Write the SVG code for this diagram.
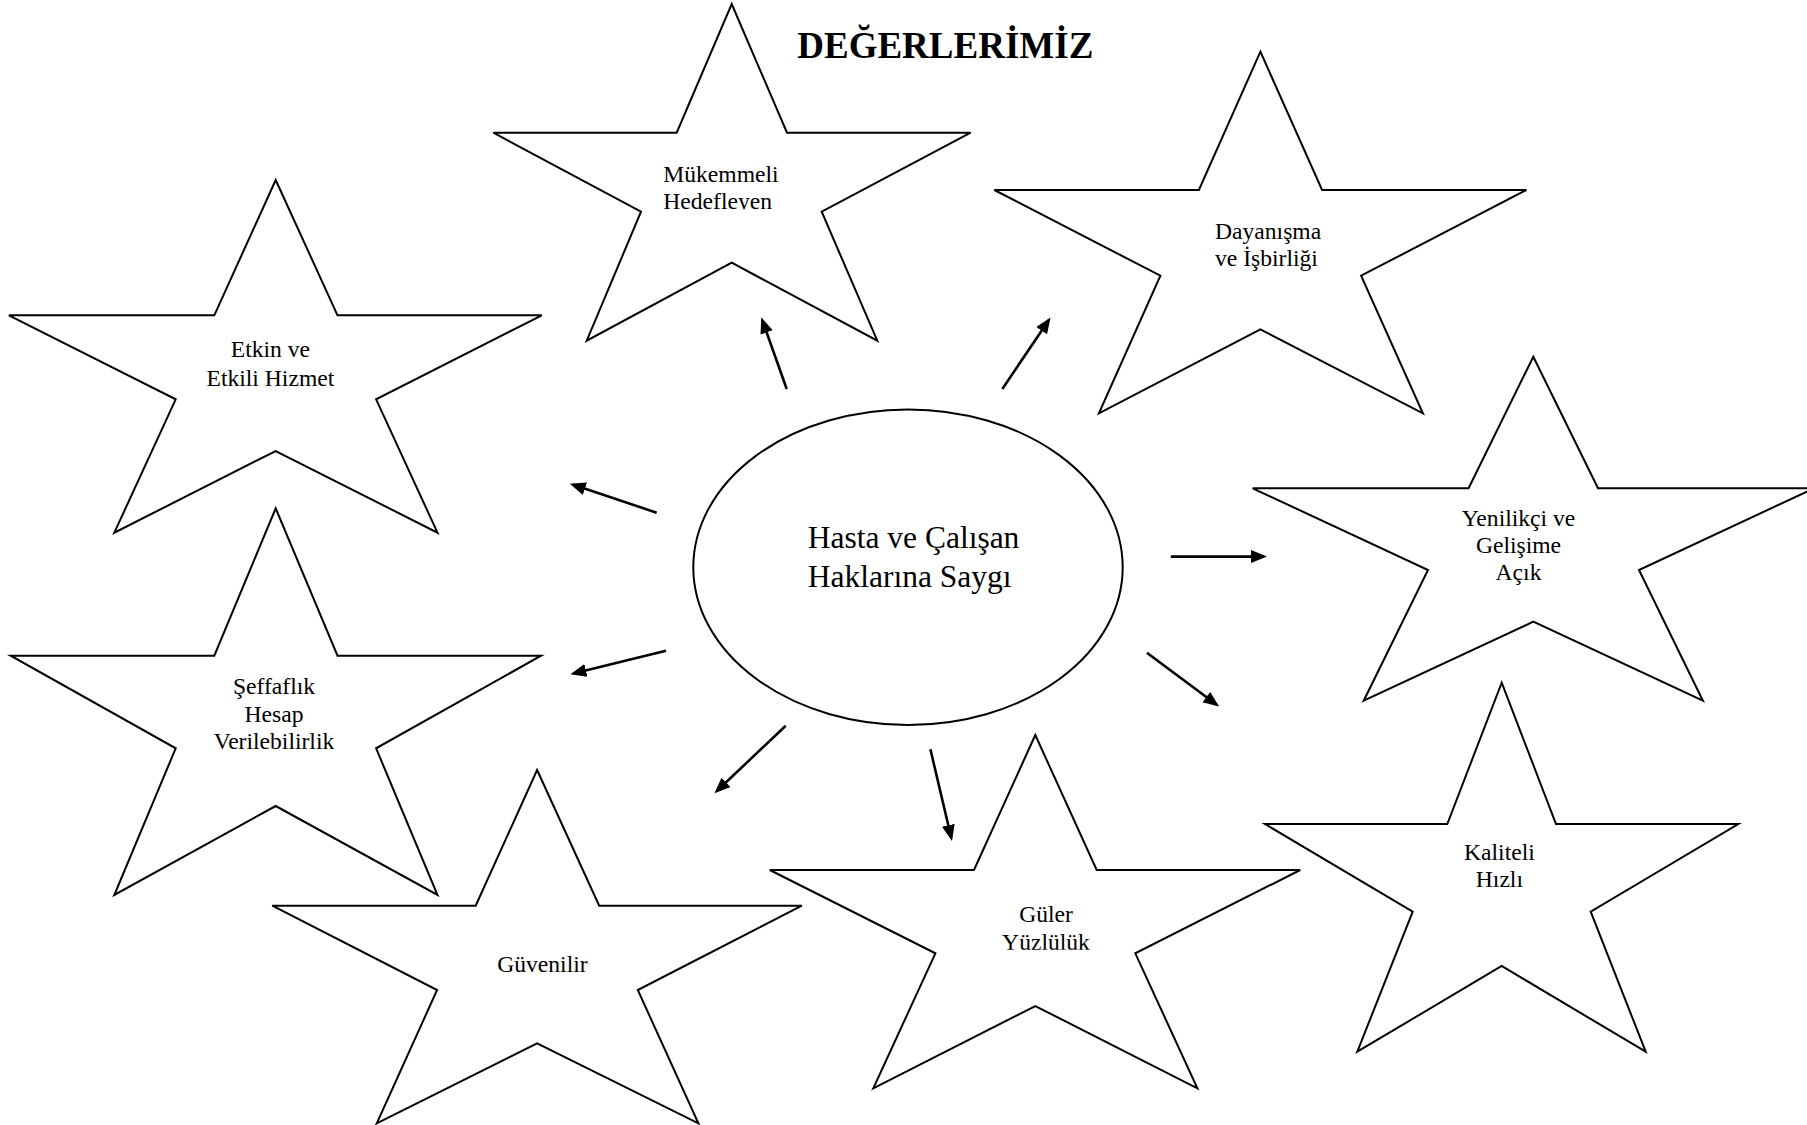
<svg xmlns="http://www.w3.org/2000/svg" width="1807" height="1125" viewBox="0 0 1807 1125">
<style>
.star{fill:#fff;stroke:#000;stroke-width:2;stroke-linejoin:miter}
.lbl{font-family:"Liberation Serif","Times New Roman",serif;font-size:23.6px;fill:#000;text-anchor:middle}
.lbs{font-family:"Liberation Serif","Times New Roman",serif;font-size:23.6px;fill:#000;text-anchor:start}
.big{font-family:"Liberation Serif","Times New Roman",serif;font-size:31.5px;fill:#000}
.title{font-family:"Liberation Serif","Times New Roman",serif;font-size:37px;font-weight:bold;fill:#000;text-anchor:middle}
.arr{stroke:#000;stroke-width:2.6;fill:none;marker-end:url(#ah)}
</style>
<defs>
<marker id="ah" markerUnits="userSpaceOnUse" markerWidth="18" markerHeight="14" refX="13" refY="6.5" orient="auto">
<path d="M0,0 L16,6.5 L0,13 z" fill="#000"/>
</marker>
<clipPath id="c1"><rect x="600" y="150" width="250" height="59.5"/></clipPath>
<clipPath id="c2"><rect x="960" y="890" width="170" height="59.8"/></clipPath>
</defs>
<rect width="1807" height="1125" fill="#fff"/>
<text id="title" class="title" x="945.3" y="58.3">DEĞERLERİMİZ</text>
<g id="star-mukemmeli">
<polygon class="star" points="731.7,4 787,132.7 970.7,132.7 821.7,211.7 877.3,340.7 731.7,262.7 586.7,340.7 641,211.7 493.3,132.7 676.7,132.7"/>
<g clip-path="url(#c1)"><text class="lbs" x="663.3" y="181.7">Mükemmeli</text><text class="lbs" x="663.3" y="208.5">Hedefleyen</text></g>
</g>
<g id="star-etkin">
<polygon class="star" points="275.7,180 337.5,315.3 541.8,315.3 376.1,399.3 437.5,532.7 275.7,451 114.3,532.7 175.7,399.3 8.9,315.3 214.3,315.3"/>
<text class="lbl" x="270.4" y="356.7">Etkin ve</text>
<text class="lbl" x="270.4" y="386">Etkili Hizmet</text>
</g>
<g id="star-seffaflik">
<polygon class="star" points="275.7,508.3 337.5,655.7 541,655.7 376.1,748.3 437.5,895 275.7,806 114.3,895 175.7,748.3 10.7,655.7 214.3,655.7"/>
<text class="lbl" x="274" y="694.3">Şeffaflık</text>
<text class="lbl" x="274" y="721.7">Hesap</text>
<text class="lbl" x="274" y="749.3">Verilebilirlik</text>
</g>
<g id="star-dayanisma">
<polygon class="star" points="1260.4,51.7 1322.1,190 1526.4,190 1361.1,275.7 1422.9,413.3 1260.4,329.3 1098.9,413.3 1160.4,275.7 994.3,190 1198.9,190"/>
<text class="lbs" x="1215" y="239.3">Dayanışma</text>
<text class="lbs" x="1215" y="266">ve İşbirliği</text>
</g>
<g id="star-yenilikci">
<polygon class="star" points="1533.3,356.7 1598,488.3 1814,488.3 1639,570 1702.9,700.7 1533.3,621.7 1363.7,700.7 1428,570 1252.7,488.3 1468.6,488.3"/>
<text class="lbl" x="1518.5" y="525.7">Yenilikçi ve</text>
<text class="lbl" x="1518.5" y="553.3">Gelişime</text>
<text class="lbl" x="1518.5" y="580">Açık</text>
</g>
<g id="star-guvenilir">
<polygon class="star" points="537.1,770 599.2,905.7 801.9,905.7 637.8,990 698.4,1123.3 537.1,1043.3 376.8,1123.3 437.1,990 272.3,905.7 475.7,905.7"/>
<text class="lbl" x="542.4" y="971.7">Güvenilir</text>
</g>
<g id="star-guler">
<polygon class="star" points="1035.3,735 1096.7,870 1300.2,870 1135.3,953.3 1197.4,1088.3 1035.3,1006 873.3,1088.3 935.4,953.3 769.8,870 974,870"/>
<text class="lbl" x="1046" y="921.7">Güler</text>
<g clip-path="url(#c2)"><text class="lbl" x="1046" y="950">Yüzlülük</text></g>
</g>
<g id="star-kaliteli">
<polygon class="star" points="1501.7,682.7 1556,824 1738.3,824 1590.7,911.7 1645.7,1051.7 1501.7,966 1357.3,1051.7 1412.7,911.7 1265,824 1447.3,824"/>
<text class="lbl" x="1499.4" y="860">Kaliteli</text>
<text class="lbl" x="1499.4" y="887.3">Hızlı</text>
</g>
<g id="center">
<ellipse cx="908" cy="567.2" rx="214.7" ry="157.8" fill="#fff" stroke="#000" stroke-width="2"/>
<text class="big" x="807.7" y="548.3">Hasta ve Çalışan</text>
<text class="big" x="807.7" y="586.7">Haklarına Saygı</text>
</g>
<g id="connectors">
<line class="arr" x1="786.7" y1="389" x2="762.3" y2="320.2"/>
<line class="arr" x1="1002.3" y1="389" x2="1048.9" y2="319.9"/>
<line class="arr" x1="656.7" y1="512.7" x2="572.6" y2="484.6"/>
<line class="arr" x1="1170.8" y1="556.6" x2="1264" y2="556.6"/>
<line class="arr" x1="666" y1="650.7" x2="573.3" y2="673.5"/>
<line class="arr" x1="785.7" y1="725.7" x2="716.6" y2="791.3"/>
<line class="arr" x1="930.4" y1="749.3" x2="951.3" y2="838"/>
<line class="arr" x1="1146.9" y1="652.7" x2="1216.7" y2="704.8"/>
</g>
</svg>
